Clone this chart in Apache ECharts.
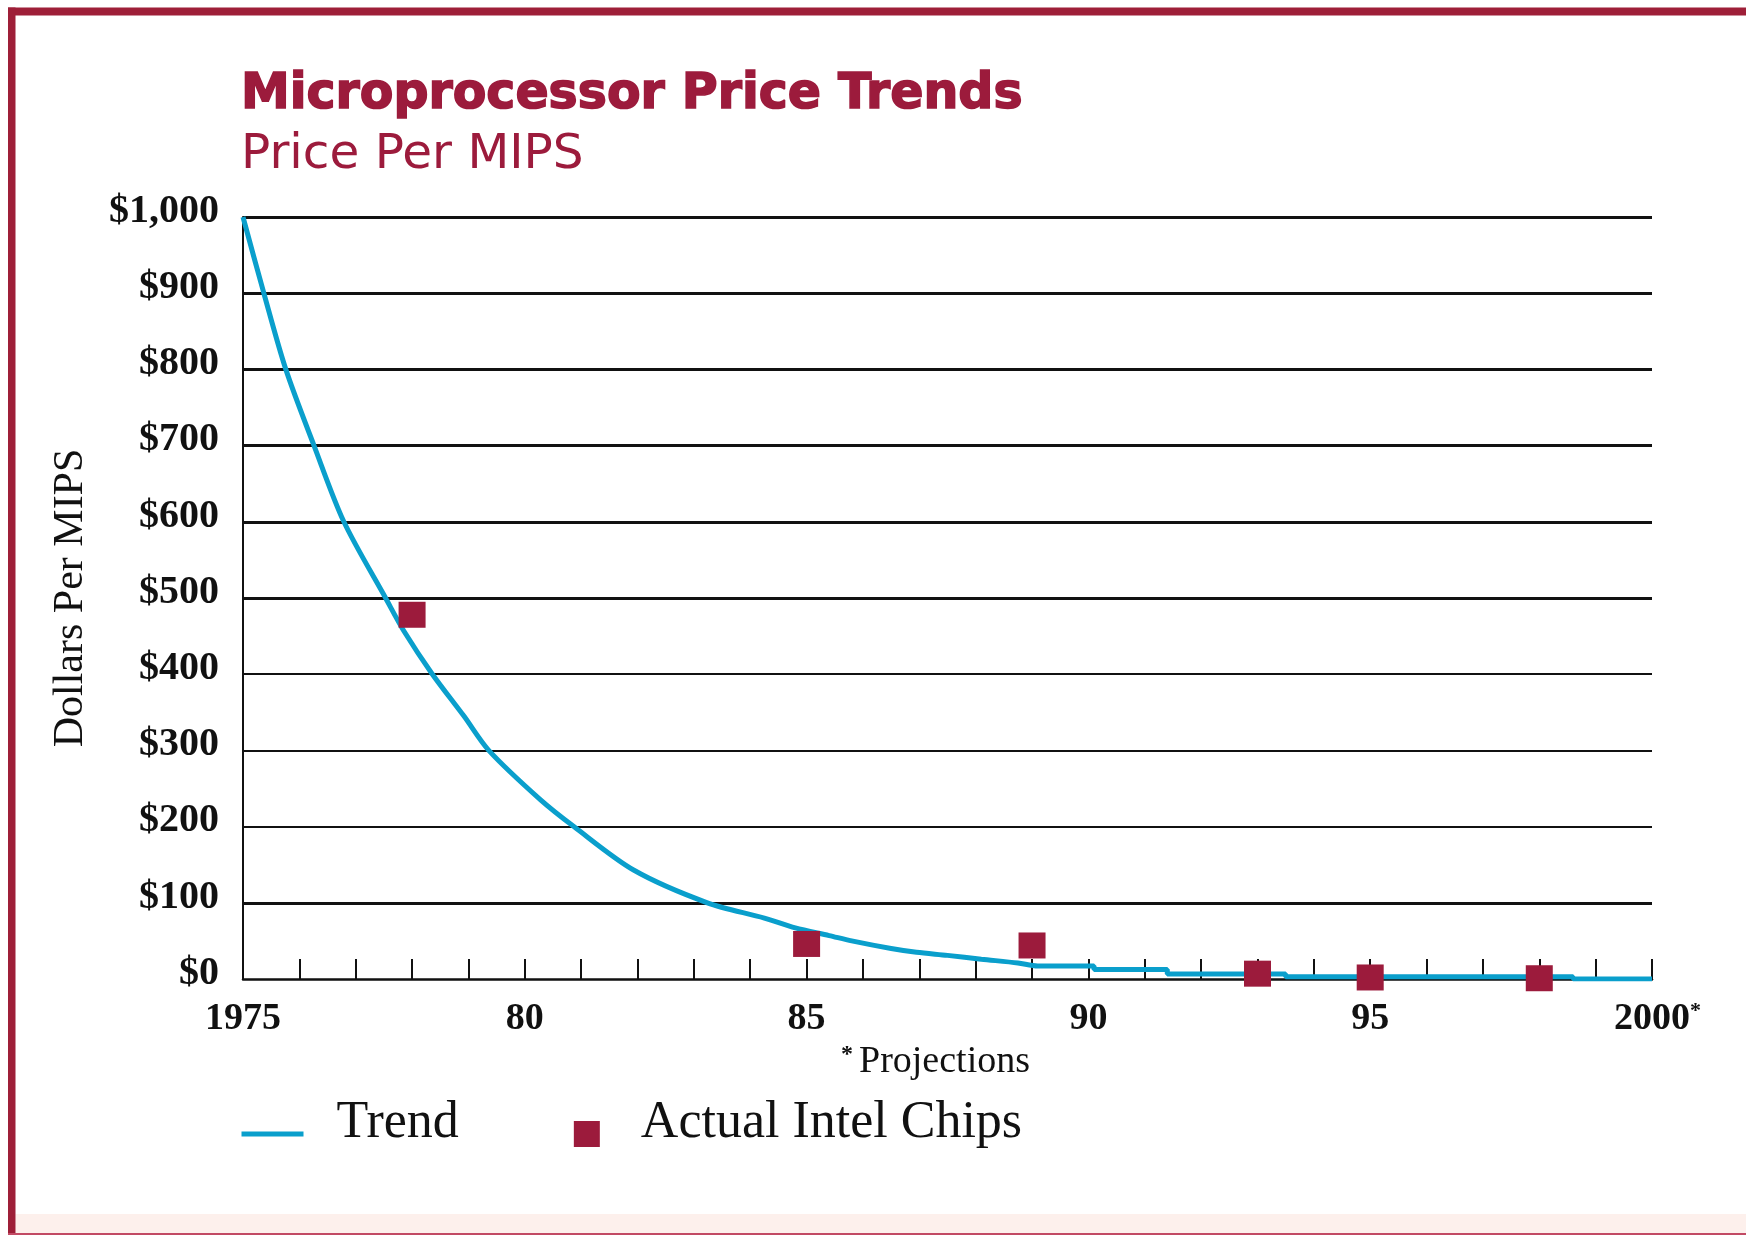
<!DOCTYPE html>
<html>
<head>
<meta charset="utf-8">
<title>Microprocessor Price Trends</title>
<script src="https://cdn.jsdelivr.net/npm/echarts@6/dist/echarts.min.js"></script>
<style>
  html, body { margin: 0; padding: 0; background: #ffffff; }
  #chart { width: 1746px; height: 1235px; }
</style>
</head>
<body>
<div id="chart"></div>
<script>
// Trend curve of price per MIPS (dollars), by year
const trendYears = [1975, 1975.37, 1975.76, 1976.26, 1976.79, 1977.53, 1977.86, 1978.36, 1978.92, 1979.36,
  1980.28, 1980.87, 1981.93, 1983.24, 1984.25, 1984.8, 1985.4, 1985.8, 1986.5, 1986.95,
  1987.5, 1988.1, 1988.75, 1989.1, 1990.1, 1990.1, 1991.4, 1991.4, 1993.5, 1993.5,
  1998.6, 1998.6, 2000];
const trendPrices = [1000, 900, 800, 700, 600, 500, 456, 400, 345, 300,
  235, 200, 143, 100, 80, 67, 57, 50, 40, 35,
  31, 26, 21, 17, 17, 12.5, 12.5, 6.5, 6.5, 3,
  3, 0, 0];

// Actual Intel chips
const chipYears = [1978, 1985, 1989, 1993, 1995, 1998];
const chipPrices = [478, 46, 44, 7, 2, 1];

// Axis tick labels
const yearTicks = [1975, 1980, 1985, 1990, 1995, 2000];
const yearTickLabels = ['1975', '80', '85', '90', '95', '2000*'];
const priceTicks = [0, 100, 200, 300, 400, 500, 600, 700, 800, 900, 1000];
const priceTickLabels = ['$0', '$100', '$200', '$300', '$400', '$500', '$600', '$700', '$800', '$900', '$1,000'];

// Horizontal rules drawn heavier than the rest
const heavyRules = [100, 500, 600, 700, 800, 900, 1000];

const CRIMSON = '#9c1b3c';
const CYAN = '#0a9fcc';
const INK = '#111111';
const SERIF = '"Liberation Serif", "DejaVu Serif", serif';

const trendData = trendYears.map((y, i) => [y, trendPrices[i]]);
const chipData = chipYears.map((y, i) => [y, chipPrices[i]]);

const ruleLines = priceTicks.filter(v => v > 0).map(v => ({
  yAxis: v,
  lineStyle: { width: heavyRules.indexOf(v) >= 0 ? 3 : 2, color: INK, type: 'solid' }
}));

function yearLabel(v) {
  const i = yearTicks.indexOf(v);
  if (i < 0) return '';
  const t = yearTickLabels[i];
  if (t.endsWith('*')) {
    return '{pad|*}' + t.slice(0, -1) + '{ast|*}';
  }
  return t;
}

function priceLabel(v) {
  const i = priceTicks.indexOf(v);
  return i < 0 ? '' : priceTickLabels[i];
}

const chart = echarts.init(document.getElementById('chart'), null, { renderer: 'canvas' });

chart.setOption({
  backgroundColor: '#ffffff',
  animation: false,
  title: [
    {
      text: 'Microprocessor Price Trends',
      left: 241,
      top: 70,
      padding: 0,
      textStyle: {
        fontFamily: '"DejaVu Sans", sans-serif',
        fontWeight: 'bold',
        fontSize: 49,
        lineHeight: 50,
        color: CRIMSON,
        textBorderColor: CRIMSON,
        textBorderWidth: 1.6
      }
    },
    {
      text: 'Price Per MIPS',
      left: 241,
      top: 129,
      padding: 0,
      textStyle: {
        fontFamily: '"DejaVu Sans", sans-serif',
        fontWeight: 'normal',
        fontSize: 48.5,
        lineHeight: 52,
        color: CRIMSON
      }
    }
  ],
  legend: {
    left: 239,
    top: 1097,
    padding: 0,
    itemWidth: 62,
    itemHeight: 26,
    itemGap: 115,
    selectedMode: false,
    formatter: name => '{t|' + name + '}\n{s| }',
    data: [
      {
        name: 'Trend',
        itemStyle: { opacity: 0 },
        lineStyle: { width: 5, color: CYAN },
        textStyle: { padding: [0, 0, 0, 28] }
      },
      {
        name: 'Actual Intel Chips',
        icon: 'path://M0,0H1V1H0Z',
        textStyle: { padding: [0, 0, 0, 18] }
      }
    ],
    textStyle: {
      fontFamily: SERIF,
      fontSize: 52,
      color: INK,
      rich: {
        t: { fontFamily: SERIF, fontSize: 52, lineHeight: 52, color: INK },
        s: { fontFamily: SERIF, fontSize: 10, lineHeight: 22, color: INK }
      }
    }
  },
  grid: {
    left: 243,
    right: 94,
    top: 217,
    bottom: 256,
    containLabel: false,
    outerBoundsMode: 'none'
  },
  xAxis: {
    type: 'value',
    min: 1975,
    max: 2000,
    interval: 1,
    name: '{ast|*}Projections',
    nameLocation: 'middle',
    nameGap: 63,
    nameTextStyle: {
      fontFamily: SERIF,
      fontSize: 38,
      lineHeight: 38,
      color: INK,
      padding: [0, 24, 0, 0],
      rich: {
        ast: { fontFamily: SERIF, fontSize: 24, fontWeight: 'bold', color: INK, verticalAlign: 'top', padding: [0, 6, 0, 0] }
      }
    },
    axisLine: { show: true, onZero: false, lineStyle: { color: INK, width: 2.5 } },
    axisTick: { show: true, inside: true, length: 20, lineStyle: { color: INK, width: 2 } },
    splitLine: { show: false },
    axisLabel: {
      show: true,
      margin: 21,
      formatter: yearLabel,
      fontFamily: SERIF,
      fontWeight: 'bold',
      fontSize: 38,
      lineHeight: 38,
      color: INK,
      rich: {
        ast: { fontFamily: SERIF, fontWeight: 'bold', fontSize: 22, color: INK, verticalAlign: 'top', lineHeight: 38 },
        pad: { fontFamily: SERIF, fontWeight: 'bold', fontSize: 22, color: 'rgba(0,0,0,0)', lineHeight: 38 }
      }
    }
  },
  yAxis: {
    type: 'value',
    min: 0,
    max: 1000,
    interval: 100,
    name: 'Dollars Per MIPS',
    nameLocation: 'middle',
    nameGap: 151,
    nameTextStyle: {
      fontFamily: SERIF,
      fontSize: 42,
      color: INK
    },
    axisLine: { show: true, lineStyle: { color: INK, width: 2 } },
    axisTick: { show: false },
    splitLine: { show: false },
    axisLabel: {
      show: true,
      margin: 24,
      formatter: priceLabel,
      fontFamily: SERIF,
      fontWeight: 'bold',
      fontSize: 40,
      lineHeight: 11,
      color: INK,
      verticalAlign: 'bottom'
    }
  },
  series: [
    {
      name: 'Trend',
      type: 'line',
      data: trendData,
      showSymbol: false,
      symbol: 'none',
      smooth: 0.3,
      z: 3,
      color: CYAN,
      lineStyle: { color: CYAN, width: 5 },
      markLine: {
        silent: true,
        z: 1,
        symbol: ['none', 'none'],
        label: { show: false },
        emphasis: { disabled: true },
        data: ruleLines
      }
    },
    {
      name: 'Actual Intel Chips',
      type: 'scatter',
      data: chipData,
      symbol: 'rect',
      symbolSize: [27, 26],
      z: 4,
      color: CRIMSON,
      itemStyle: { color: CRIMSON, opacity: 1 }
    }
  ],
  graphic: [
    // page frame
    { type: 'rect', silent: true, z: 100, shape: { x: 8, y: 7.5, width: 1738, height: 8 }, style: { fill: '#9e1f38' } },
    { type: 'rect', silent: true, z: 100, shape: { x: 8, y: 7.5, width: 7.5, height: 1227.5 }, style: { fill: '#9e1f38' } },
    { type: 'rect', silent: true, z: -1, shape: { x: 15.5, y: 1214, width: 1731, height: 19 }, style: { fill: '#fdf0ec' } },
    { type: 'rect', silent: true, z: 100, shape: { x: 8, y: 1233, width: 1738, height: 2 }, style: { fill: '#c24a64' } }
  ]
});
</script>
</body>
</html>
